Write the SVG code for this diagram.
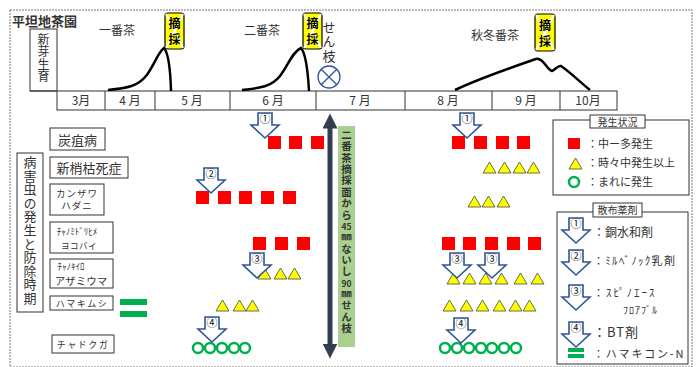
<svg xmlns="http://www.w3.org/2000/svg" width="696" height="367" viewBox="0 0 696 367">
<defs>
<style>
text{font-family:"Noto Sans CJK JP","Noto Sans",sans-serif;fill:#333}
.v{writing-mode:vertical-rl;text-orientation:upright}
.lbl{fill:#fff;stroke:#333;stroke-width:1}
.mon{font-size:12px;text-anchor:middle}
.sq{fill:#ff0000}
.tri{fill:#ffff00;stroke:#444;stroke-width:0.8}
.cir{fill:#fff;stroke:#00b050;stroke-width:2.5}
.spr{fill:#fff;stroke:#2f5597;stroke-width:1.6;stroke-linejoin:miter}
.num{font-size:11px;text-anchor:middle;fill:#111}
.curve{fill:none;stroke:#000;stroke-width:2.5}
.tsb{fill:#ffff00;stroke:#000;stroke-width:1.2}
.tsx{stroke:#fff;stroke-width:2}
.tst{font-size:12px;font-weight:bold;fill:#000;letter-spacing:4px}
.vt{text-anchor:middle;dominant-baseline:central}
.leg{font-size:11px}
.bar{fill:#00b050}
</style>
<path id="arrow" d="M7,0 H21 V12 H28 L14,25 L0,12 H7 Z"/>
<path id="tri" d="M6.5,0 L13,11 L0,11 Z"/>
<marker id="ah" viewBox="0 0 10 10" refX="5" refY="5" markerWidth="3" markerHeight="3" orient="auto-start-reverse">
<path d="M0,0 L10,5 L0,10 Z" fill="#333f50"/>
</marker>
</defs>
<rect x="0" y="0" width="696" height="367" fill="#fff"/>
<rect x="10" y="10" width="682" height="357" fill="none" stroke="#777" stroke-width="1" stroke-dasharray="2,1"/>
<text x="12" y="26" font-size="13" font-weight="bold" fill="#000">平坦地茶園</text>

<g id="shinme">
<rect x="30" y="29" width="27" height="62" fill="#fff" stroke="#333"/>
<text class="v" x="43.5" y="33" font-size="12" letter-spacing="0.5" fill="#555">新芽生育</text>
</g>

<g id="months">
<rect x="57" y="91" width="560" height="19" fill="#fff" stroke="#333"/>
<line x1="30" y1="91" x2="57" y2="91" stroke="#333"/>
<path d="M105,91V110M155,91V110M230,91V110M316,91V110M405,91V110M492,91V110M560,91V110" stroke="#333"/>
<text class="mon" x="81" y="105">3月</text>
<text class="mon" x="130" y="105">4 月</text>
<text class="mon" x="192" y="105">5 月</text>
<text class="mon" x="273" y="105">6 月</text>
<text class="mon" x="360" y="105">7 月</text>
<text class="mon" x="448" y="105">8 月</text>
<text class="mon" x="526" y="105">9 月</text>
<text class="mon" x="588" y="105">10月</text>
</g>

<g id="curves">
<path class="curve" d="M108,90 C128,88 138,86 146,76 C154,66 158,52 164,48 Q170,55 171,91"/>
<path class="curve" d="M242,90 C262,88 272,86 280,76 C288,66 292,52 301,48 Q307,55 309,91"/>
<path class="curve" d="M455,90 C480,78 510,68 536,59 C543,57 547,70 552,71 C555,70 558,65 561,66 C570,72 580,82 590,90"/>
<text x="117" y="35" font-size="12" text-anchor="middle" fill="#444">一番茶</text>
<text x="262" y="35" font-size="12" text-anchor="middle" fill="#444">二番茶</text>
<text x="495" y="40" font-size="12" text-anchor="middle" fill="#444">秋冬番茶</text>
</g>

<g id="tekisai1">
<rect class="tsb" x="165" y="13" width="19" height="36" rx="3"/>
<path class="tsx" d="M166,14 L183,48 M183,14 L166,48"/>
<text class="v tst" x="174.5" y="17">摘採</text>
</g>
<g id="tekisai2">
<rect class="tsb" x="303" y="13" width="19" height="36" rx="3"/>
<path class="tsx" d="M304,14 L321,48 M321,14 L304,48"/>
<text class="v tst" x="312.5" y="17">摘採</text>
</g>
<g id="tekisai3">
<rect class="tsb" x="535" y="14" width="20" height="37" rx="3"/>
<path class="tsx" d="M536,15 L554,50 M554,15 L536,50"/>
<text class="v tst" x="545" y="19">摘採</text>
</g>

<g id="senshi">
<text class="v" x="329" y="20.5" font-size="13" letter-spacing="1.5" fill="#444">せん枝</text>
<circle cx="329" cy="77" r="11" fill="#fff" stroke="#2f5597" stroke-width="1.3"/>
<path d="M321.2,69.2 L336.8,84.8 M336.8,69.2 L321.2,84.8" stroke="#2f5597" stroke-width="1.3"/>
</g>

<g id="pest-title">
<rect x="17" y="153" width="26" height="159" fill="#fff" stroke="#333"/>
<text class="v" x="30" y="155.5" font-size="13" letter-spacing="0.6" fill="#444">病害虫の発生と防除時期</text>
</g>

<g id="p-tanso"><rect class="lbl" x="50" y="128" width="55" height="22"/><text class="vt" x="77.5" y="139" font-size="13">炭疽病</text></g>
<g id="p-shinsho"><rect class="lbl" x="50" y="157" width="78" height="21"/><text class="vt" x="89" y="167.5" font-size="13">新梢枯死症</text></g>
<g id="p-kanzawa"><rect class="lbl" x="50" y="184" width="54" height="31"/><text class="vt" font-size="9.5" letter-spacing="1"><tspan x="77" y="192.5">カンザワ</tspan><tspan x="77" y="205">ハダニ</tspan></text></g>
<g id="p-yokobai"><rect class="lbl" x="50" y="222" width="63" height="31"/><text class="vt"><tspan x="77" y="231" font-size="9">ﾁｬﾉﾐﾄﾞﾘﾋﾒ</tspan><tspan x="79" y="245" font-size="8.5" letter-spacing="0.5">ヨコバイ</tspan></text></g>
<g id="p-azami"><rect class="lbl" x="50" y="259" width="63" height="29"/><text class="vt"><tspan x="71" y="266" font-size="9">ﾁｬﾉｷｲﾛ</tspan><tspan x="81" y="280" font-size="10.5">アザミウマ</tspan></text></g>
<g id="p-hamaki"><rect class="lbl" x="50" y="296" width="63" height="14"/><text class="vt" x="82" y="303.5" font-size="9" letter-spacing="1.5">ハマキムシ</text></g>
<g id="p-chadoku"><rect class="lbl" x="52" y="335" width="62" height="18"/><text class="vt" x="83" y="344" font-size="9" letter-spacing="1.5">チャドクガ</text></g>

<g id="hamakicon-bars">
<rect class="bar" x="120" y="299" width="27" height="6"/>
<rect class="bar" x="120" y="311" width="27" height="6"/>
</g>

<g id="occurrence">
<rect class="sq" x="268" y="136" width="13" height="13"/><rect class="sq" x="289" y="136" width="13" height="13"/><rect class="sq" x="311" y="136" width="13" height="13"/>
<rect class="sq" x="452" y="136" width="13" height="13"/><rect class="sq" x="474" y="136" width="13" height="13"/><rect class="sq" x="496" y="136" width="13" height="13"/><rect class="sq" x="517" y="136" width="13" height="13"/>
<use href="#tri" class="tri" x="483" y="162"/><use href="#tri" class="tri" x="498" y="162"/><use href="#tri" class="tri" x="513" y="162"/><use href="#tri" class="tri" x="527" y="162"/>
<rect class="sq" x="196" y="191" width="13" height="13"/><rect class="sq" x="218" y="191" width="13" height="13"/><rect class="sq" x="239" y="191" width="13" height="13"/><rect class="sq" x="261" y="191" width="13" height="13"/><rect class="sq" x="283" y="191" width="13" height="13"/>
<use href="#tri" class="tri" x="468" y="196"/><use href="#tri" class="tri" x="482" y="196"/><use href="#tri" class="tri" x="497" y="196"/>
<rect class="sq" x="253" y="237" width="13" height="13"/><rect class="sq" x="275" y="237" width="13" height="13"/><rect class="sq" x="297" y="237" width="13" height="13"/>
<rect class="sq" x="442" y="237" width="13" height="13"/><rect class="sq" x="463" y="237" width="13" height="13"/><rect class="sq" x="485" y="237" width="13" height="13"/><rect class="sq" x="507" y="237" width="13" height="13"/><rect class="sq" x="528" y="237" width="13" height="13"/>
<use href="#tri" class="tri" x="258" y="268"/><use href="#tri" class="tri" x="274" y="268"/><use href="#tri" class="tri" x="288" y="268"/>
<use href="#tri" class="tri" x="447" y="273"/><use href="#tri" class="tri" x="463" y="273"/><use href="#tri" class="tri" x="479" y="273"/><use href="#tri" class="tri" x="495" y="273"/><use href="#tri" class="tri" x="514" y="273"/><use href="#tri" class="tri" x="531" y="273"/>
<use href="#tri" class="tri" x="216" y="300"/><use href="#tri" class="tri" x="233" y="300"/><use href="#tri" class="tri" x="246" y="300"/>
<use href="#tri" class="tri" x="443" y="300"/><use href="#tri" class="tri" x="460" y="300"/><use href="#tri" class="tri" x="476" y="300"/><use href="#tri" class="tri" x="493" y="300"/><use href="#tri" class="tri" x="509" y="300"/><use href="#tri" class="tri" x="523" y="300"/>
<circle class="cir" cx="198" cy="348" r="5"/><circle class="cir" cx="210" cy="348" r="5"/><circle class="cir" cx="222" cy="348" r="5"/><circle class="cir" cx="234" cy="348" r="5"/><circle class="cir" cx="245" cy="348" r="5"/>
<circle class="cir" cx="445" cy="348" r="5"/><circle class="cir" cx="457" cy="348" r="5"/><circle class="cir" cx="469" cy="348" r="5"/><circle class="cir" cx="481" cy="348" r="5"/><circle class="cir" cx="492" cy="348" r="5"/><circle class="cir" cx="504" cy="348" r="5"/><circle class="cir" cx="516" cy="348" r="5"/>
</g>

<g id="sprays">
<use href="#arrow" class="spr" x="251" y="113"/><text class="num" x="265" y="123">①</text>
<use href="#arrow" class="spr" x="197" y="168"/><text class="num" x="211" y="178">②</text>
<use href="#arrow" class="spr" x="243" y="253"/><text class="num" x="257" y="263">③</text>
<use href="#arrow" class="spr" x="198" y="317"/><text class="num" x="212" y="327">④</text>
<use href="#arrow" class="spr" x="453" y="113"/><text class="num" x="467" y="123">①</text>
<use href="#arrow" class="spr" x="443" y="253"/><text class="num" x="457" y="263">③</text>
<use href="#arrow" class="spr" x="478" y="253"/><text class="num" x="492" y="263">③</text>
<use href="#arrow" class="spr" x="447" y="318"/><text class="num" x="461" y="328">④</text>
</g>

<g id="connectors">
<line x1="330" y1="121" x2="330" y2="351" stroke="#333f50" stroke-width="5" marker-start="url(#ah)" marker-end="url(#ah)"/>
</g>

<g id="senshi-label">
<rect x="338" y="126" width="17" height="221" fill="#a9d08e"/>
<g font-weight="bold">
<text class="v" x="346.5" y="129.75" font-size="10.5" letter-spacing="0.86" fill="#000">二番茶摘採面から</text>
<text class="vt" x="346.5" y="226" font-size="8.5" fill="#000">45</text>
<text class="v" x="346.5" y="232" font-size="10.5" letter-spacing="0.86" fill="#000">㎜ないし</text>
<text class="vt" x="346.5" y="282.6" font-size="8.5" fill="#000">90</text>
<text class="v" x="346.5" y="288.75" font-size="10.5" letter-spacing="0.86" fill="#000">㎜せん枝</text>
</g>
</g>

<g id="legend-occurrence">
<rect x="553" y="120" width="136" height="75" fill="#fff" stroke="#333"/>
<rect x="590" y="115" width="55" height="13" fill="#fff" stroke="#333"/>
<text x="617.5" y="125.5" font-size="10" text-anchor="middle">発生状況</text>
<rect class="sq" x="568" y="138" width="12" height="11"/>
<text class="leg" x="587" y="148">：中ー多発生</text>
<use href="#tri" class="tri" x="569" y="158"/>
<text class="leg" x="587" y="167">：時々中発生以上</text>
<circle class="cir" cx="574" cy="182" r="5"/>
<text class="leg" x="587" y="186">：まれに発生</text>
</g>

<g id="legend-spray">
<rect x="557" y="212" width="131" height="152" fill="#fff" stroke="#333"/>
<rect x="593" y="203" width="49" height="14" fill="#fff" stroke="#333"/>
<text x="617.5" y="214" font-size="10" text-anchor="middle">散布薬剤</text>
<use href="#arrow" class="spr" x="562" y="218"/><text class="num" x="576" y="228">①</text>
<text x="593" y="237" font-size="12">：銅水和剤</text>
<use href="#arrow" class="spr" x="562" y="250"/><text class="num" x="576" y="260">②</text>
<text x="593" y="265" font-size="11" letter-spacing="1.3">：ﾐﾙﾍﾞﾉｯｸ乳剤</text>
<use href="#arrow" class="spr" x="562" y="285"/><text class="num" x="576" y="295">③</text>
<text x="593" y="297" font-size="11" letter-spacing="2">：ｽﾋﾟﾉｴｰｽ</text>
<text x="623" y="314" font-size="10" letter-spacing="1">ﾌﾛｱﾌﾞﾙ</text>
<use href="#arrow" class="spr" x="562" y="322"/><text class="num" x="576" y="332">④</text>
<text x="593" y="337" font-size="13" letter-spacing="1">：BT剤</text>
<rect class="bar" x="568" y="348" width="16" height="4"/>
<rect class="bar" x="568" y="354" width="16" height="4"/>
<text x="593" y="358" font-size="11" letter-spacing="1.8">：ハマキコン-N</text>
</g>
</svg>
